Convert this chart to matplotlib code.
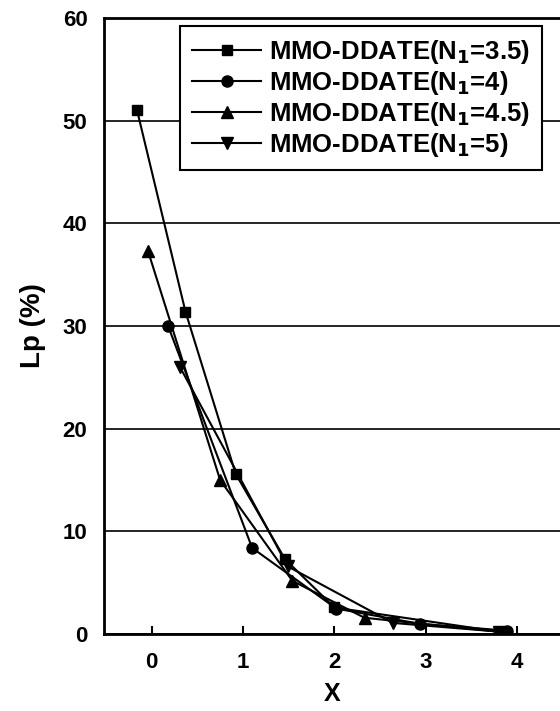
import matplotlib
matplotlib.use("Agg")
import matplotlib.pyplot as plt

plt.rcParams['font.family'] = ['Liberation Sans', 'DejaVu Sans']
plt.rcParams['font.weight'] = 'bold'
plt.rcParams['mathtext.default'] = 'bf'

# data
x_35 = [-0.16, 0.37, 0.92, 1.46, 2.00, 3.80]
y_35 = [51.0, 31.4, 15.6, 7.3, 2.6, 0.25]

x_40 = [0.18, 1.10, 2.02, 2.94, 3.89]
y_40 = [30.0, 8.4, 2.5, 1.0, 0.35]

x_45 = [-0.04, 0.75, 1.54, 2.33, 3.85]
y_45 = [37.3, 15.0, 5.2, 1.6, 0.2]

x_50 = [0.31, 1.49, 2.64, 3.80]
y_50 = [26.0, 6.6, 1.1, 0.25]

labels = [r"MMO-DDATE(N$_1$=3.5)", r"MMO-DDATE(N$_1$=4)",
          r"MMO-DDATE(N$_1$=4.5)", r"MMO-DDATE(N$_1$=5)"]

fig = plt.figure(figsize=(5.6, 7.11), dpi=100)
ax = fig.add_axes([0.186, 0.108, 0.814, 0.867])

ax.plot(x_35, y_35, color='black', lw=1.5, marker='s', ms=7, label=labels[0])
ax.plot(x_40, y_40, color='black', lw=1.5, marker='o', ms=8, label=labels[1])
ax.plot(x_45, y_45, color='black', lw=1.5, marker='^', ms=9, label=labels[2])
ax.plot(x_50, y_50, color='black', lw=1.5, marker='v', ms=9, label=labels[3])

ax.set_xlim(-0.52, 4.47)
ax.set_ylim(0, 60)
ax.set_xticks([0, 1, 2, 3, 4])
ax.set_yticks([0, 10, 20, 30, 40, 50, 60])
ax.yaxis.grid(True, color='black', lw=1.2)
ax.set_axisbelow(True)

for s in ['left', 'bottom', 'top']:
    ax.spines[s].set_linewidth(2)
ax.spines['right'].set_visible(False)

ax.tick_params(axis='x', direction='in', length=6, width=1.5, labelsize=16, pad=13)
ax.tick_params(axis='y', length=0, labelsize=16, pad=12)

ax.set_xlabel("X", fontsize=18, fontweight='bold', labelpad=6)
ax.set_ylabel("Lp (%)", fontsize=20, fontweight='bold', labelpad=12)

leg = ax.legend(loc='upper center', bbox_to_anchor=(361 / 560, 1 - 26 / 711),
                bbox_transform=fig.transFigure, borderaxespad=0,
                prop={'size': 18.5, 'weight': 'bold'}, frameon=True,
                fancybox=False, edgecolor='black', handlelength=2.7,
                borderpad=0.45, labelspacing=0.12, handletextpad=0.3)
leg.get_frame().set_linewidth(1.5)
leg.get_frame().set_alpha(1)

fig.savefig("out.png", dpi=100)
